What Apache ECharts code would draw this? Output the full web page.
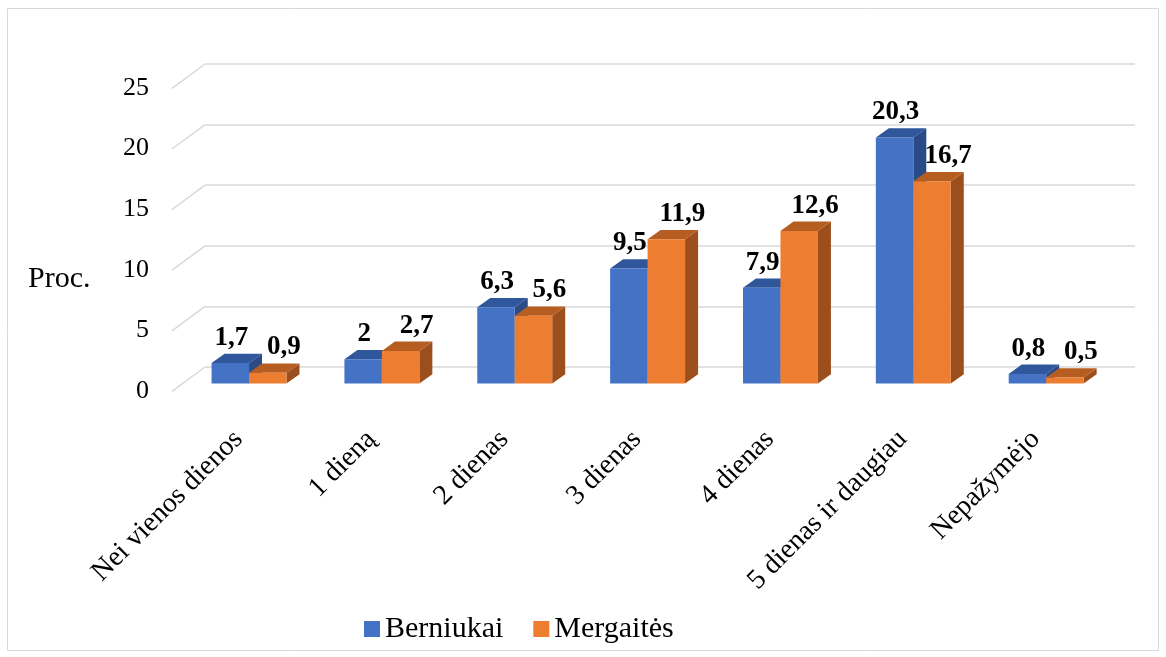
<!DOCTYPE html>
<html>
<head>
<meta charset="utf-8">
<script src="https://cdn.jsdelivr.net/npm/echarts@6/dist/echarts.min.js"></script>
<style>
  html, body { margin: 0; padding: 0; background: #fff; }
  #chart { width: 1166px; height: 657px; }
</style>
</head>
<body>
<div id="chart"></div>
<script>
const categories = ['Nei vienos dienos', '1 dieną', '2 dienas', '3 dienas', '4 dienas', '5 dienas ir daugiau', 'Nepažymėjo']
const berniukai = [1.7, 2, 6.3, 9.5, 7.9, 20.3, 0.8]
const mergaites = [0.9, 2.7, 5.6, 11.9, 12.6, 16.7, 0.5]
const yTicks = [0, 5, 10, 15, 20, 25]

const FONT = '"Liberation Serif", "Times New Roman", serif'
// 3d look: front face offset from back wall, and bar depth
const FRONT = [-22.4, 16.6]
const DEPTH = [13, -9.3]
const FLOOR = [-33, 24.4]
const colors = [
  { front: '#4472C4', top: '#30569B', side: '#2A4B85' },
  { front: '#ED7D31', top: '#B65E22', side: '#9C4E1C' }
]

const fmt = (v) => String(v).replace('.', ',')

function barRender (s) {
  return function (params, api) {
    const i = api.value(0)
    const v = api.value(1)
    const base = api.coord([i, 0])
    const top = api.coord([i, v])
    const bw = api.size([1, 0])[0] * 0.282
    const c = colors[s]
    const x0 = base[0] + FRONT[0] + (s === 0 ? -bw : 0)
    const x1 = x0 + bw
    const y0 = top[1] + FRONT[1]
    const yb = base[1] + FRONT[1]
    const [dx, dy] = DEPTH
    return {
      type: 'group',
      children: [
        { type: 'polygon', shape: { points: [[x1, y0], [x1 + dx, y0 + dy], [x1 + dx, yb + dy], [x1, yb]] }, style: { fill: c.side } },
        { type: 'polygon', shape: { points: [[x0, y0], [x1, y0], [x1 + dx, y0 + dy], [x0 + dx, y0 + dy]] }, style: { fill: c.top } },
        { type: 'rect', shape: { x: x0, y: y0, width: bw, height: yb - y0 }, style: { fill: c.front } },
        {
          type: 'text',
          z2: 50,
          style: {
            x: (x0 + x1) / 2 + (s === 0 ? 1 : 16),
            y: y0 + dy - 16,
            text: fmt(v),
            align: 'center',
            verticalAlign: 'middle',
            fill: '#000',
            font: 'bold 27px ' + FONT
          }
        }
      ]
    }
  }
}

const chart = echarts.init(document.getElementById('chart'))
const option = {
  animation: false,
  graphic: [
    { type: 'rect', shape: { x: 7.5, y: 8.5, width: 1151, height: 642 }, style: { fill: 'none', stroke: '#d9d9d9', lineWidth: 1 } },
    { type: 'text', left: 28, top: 264, style: { text: 'Proc.', font: '30px ' + FONT, fill: '#000' } }
  ],
  legend: {
    left: 359,
    top: 609,
    icon: 'rect',
    itemWidth: 16,
    itemHeight: 16,
    itemGap: 30,
    textStyle: { fontFamily: FONT, fontSize: 30, color: '#000' },
    data: ['Berniukai', 'Mergaitės']
  },
  grid: [
    // back wall
    { left: 205, right: 31, top: 64, bottom: 290 },
    // front edge of the floor
    { left: 172, right: 64, top: 88, bottom: 266 }
  ],
  xAxis: [
    { type: 'category', gridIndex: 0, data: categories, axisLine: { show: false }, axisTick: { show: false }, axisLabel: { show: false } },
    {
      type: 'category',
      gridIndex: 1,
      data: categories,
      axisLine: { show: false },
      axisTick: { show: false },
      axisLabel: { rotate: 45, margin: 44, interval: 0, fontFamily: FONT, fontSize: 28, color: '#000' }
    }
  ],
  yAxis: [
    {
      type: 'value',
      gridIndex: 0,
      min: 0,
      max: 25,
      interval: 5,
      axisLabel: { show: false },
      splitLine: { lineStyle: { color: '#d9d9d9', width: 1.5 } }
    },
    {
      type: 'value',
      gridIndex: 1,
      min: 0,
      max: 25,
      interval: 5,
      splitLine: { show: false },
      axisLabel: { margin: 23, fontFamily: FONT, fontSize: 26, color: '#000' }
    }
  ],
  series: [
    {
      type: 'custom',
      silent: true,
      xAxisIndex: 0,
      yAxisIndex: 0,
      data: yTicks.map((t) => [0, t]),
      renderItem: (params, api) => {
        const p = api.coord([0, api.value(1)])
        const x = p[0] - api.size([1, 0])[0] / 2
        return {
          type: 'line',
          shape: { x1: x, y1: p[1], x2: x + FLOOR[0], y2: p[1] + FLOOR[1] },
          style: { stroke: '#d9d9d9', lineWidth: 1.5 }
        }
      }
    },
    {
      name: 'Berniukai',
      type: 'custom',
      xAxisIndex: 0,
      yAxisIndex: 0,
      itemStyle: { color: colors[0].front },
      data: berniukai.map((v, i) => [i, v]),
      renderItem: barRender(0)
    },
    {
      name: 'Mergaitės',
      type: 'custom',
      xAxisIndex: 0,
      yAxisIndex: 0,
      itemStyle: { color: colors[1].front },
      data: mergaites.map((v, i) => [i, v]),
      renderItem: barRender(1)
    }
  ]
}
chart.setOption(option)
</script>
</body>
</html>
